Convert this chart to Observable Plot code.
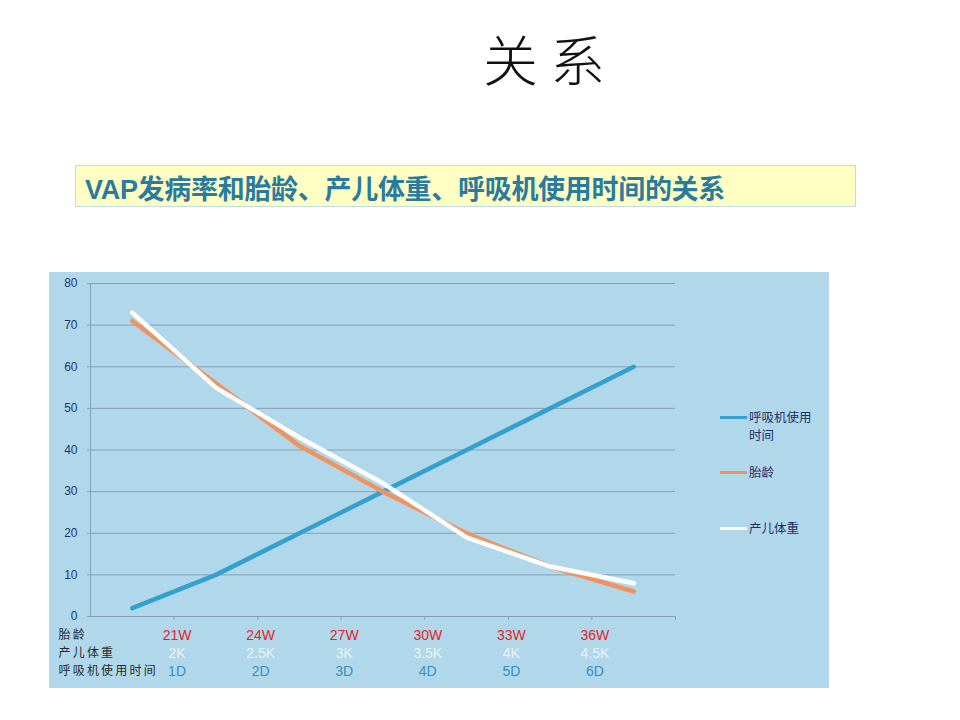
<!DOCTYPE html>
<html>
<head>
<meta charset="utf-8">
<script src="https://cdn.jsdelivr.net/npm/d3@7"></script>
<script src="https://cdn.jsdelivr.net/npm/@observablehq/plot@0.6"></script>
<style>
  html, body { margin: 0; padding: 0; background: #fff; width: 960px; height: 720px; overflow: hidden; }
  #title { position: absolute; left: 0; width: 1088px; top: 30px; text-align: center; font-family: "Noto Sans CJK SC", serif; font-size: 55px; font-weight: 300; color: #111; line-height: 1; }
  #subtitle { position: absolute; left: 75px; top: 165px; width: 781px; height: 42px; background: #ffffc4; border: 1px solid #bcdcea; box-sizing: border-box; }
  #subtitle span { position: absolute; left: 9px; top: 2px; font-family: "Liberation Sans", "Noto Sans CJK SC", sans-serif; font-weight: bold; font-size: 27px; color: #2a7b9d; white-space: nowrap; letter-spacing: -0.3px; }
  #chartbox { position: absolute; left: 49px; top: 272px; width: 780px; height: 416px; background: #b0d8ea; }
  #chartbox svg { position: absolute; left: 0; top: 0; }
  #legend { position: absolute; left: 671px; top: 136px; font-family: "Noto Sans CJK SC", sans-serif; font-size: 12.5px; color: #1f2f6a; }
  .item { position: absolute; left: 0; width: 110px; line-height: 18px; }
  .sw { position: absolute; left: 0; top: 8px; width: 27px; height: 3px; }
  .lt { position: absolute; left: 29px; top: 0; width: 66px; }
</style>
</head>
<body>
<div id="title">关 系</div>
<div id="subtitle"><span>VAP发病率和胎龄、产儿体重、呼吸机使用时间的关系</span></div>
<div id="chartbox"><div id="legend"></div></div>
<script>
// Series names (legend order)
const seriesNames = ["呼吸机使用时间", "胎龄", "产儿体重"];
const seriesColors = ["#34a0cf", "#f0935f", "#ffffff"];
// Values per category (7 points each)
const ventilatorValues = [2, 10, 20, 30, 40, 50, 60];
const gestationValues  = [71, 56, 41, 30, 20, 12, 6];
const weightValues     = [73, 55, 43, 32, 19, 12, 8];
// Tick label rows
const rowHeaders = ["胎龄", "产儿体重", "呼吸机使用时间"];
const gestationLabels = ["21W", "24W", "27W", "30W", "33W", "36W"];
const weightLabels = ["2K", "2.5K", "3K", "3.5K", "4K", "4.5K"];
const ventilatorLabels = ["1D", "2D", "3D", "4D", "5D", "6D"];
const rowColors = ["#e4222c", "#eaf2f6", "#3a8ebf"];
const yTicks = [0, 10, 20, 30, 40, 50, 60, 70, 80];

const allSeries = [ventilatorValues, gestationValues, weightValues];
const data = allSeries.flatMap((vals, s) => vals.map((v, i) => ({series: seriesNames[s], i, v})));
const boundaries = d3.range(ventilatorValues.length).map(i => i + 0.5);
const labelRows = [gestationLabels, weightLabels, ventilatorLabels];
const rowDy = [19, 37, 55];

const marks = [
  Plot.gridY(yTicks, {stroke: "#879fb6", strokeOpacity: 1}),
  Plot.ruleX([-0.5], {y1: 0, y2: 80, stroke: "#879fb6"}),
  Plot.axisY({ticks: yTicks, tickSize: 3, tickPadding: 10, stroke: "#879fb6", fill: "#1e3570", fontSize: 12, fontFamily: "Liberation Sans, Arial, sans-serif", label: null}),
  Plot.axisX({ticks: boundaries, tickSize: 4, tickFormat: () => "", stroke: "#879fb6", label: null}),
  Plot.ruleY([0], {stroke: "#879fb6"}),
];
seriesNames.forEach((name, s) => {
  marks.push(Plot.line(data.filter(d => d.series === name), {x: "i", y: "v", stroke: seriesColors[s], strokeWidth: 4.5, strokeLinecap: "round", strokeLinejoin: "round"}));
});
labelRows.forEach((labels, r) => {
  marks.push(Plot.text(labels, {x: (d, i) => i + 0.5, y: () => 0, text: d => d, dy: rowDy[r], dx: 3, fill: rowColors[r], fontSize: 14, fontFamily: "Liberation Sans, Arial, sans-serif"}));
  marks.push(Plot.text([rowHeaders[r]], {frameAnchor: "left", y: () => 0, text: d => d, dy: rowDy[r], dx: -32, textAnchor: "start", fill: "#2a2a2a", fontSize: 12, fontFamily: "Noto Sans CJK SC, sans-serif"}));
});

const chart = Plot.plot({
  width: 780,
  height: 416,
  marginLeft: 41,
  marginRight: 154,
  marginTop: 11,
  marginBottom: 72,
  style: {background: "transparent", overflow: "visible"},
  x: {domain: [-0.5, ventilatorValues.length - 0.5], axis: null},
  y: {domain: [0, 80], axis: null},
  marks
});
// widen the row-header lettering to match the reference's spacing
d3.select(chart).selectAll("text").filter(function() { return rowHeaders.includes(this.textContent); })
  .attr("letter-spacing", "2.2px");
document.getElementById("chartbox").prepend(chart);

// Legend
const legend = document.getElementById("legend");
const legendTops = [0, 55, 111];
seriesNames.forEach((name, s) => {
  const item = document.createElement("div");
  item.className = "item";
  item.style.top = legendTops[s] + "px";
  const sw = document.createElement("div");
  sw.className = "sw";
  sw.style.background = seriesColors[s];
  const lt = document.createElement("div");
  lt.className = "lt";
  lt.textContent = name;
  item.appendChild(sw); item.appendChild(lt);
  legend.appendChild(item);
});
</script>
</body>
</html>
